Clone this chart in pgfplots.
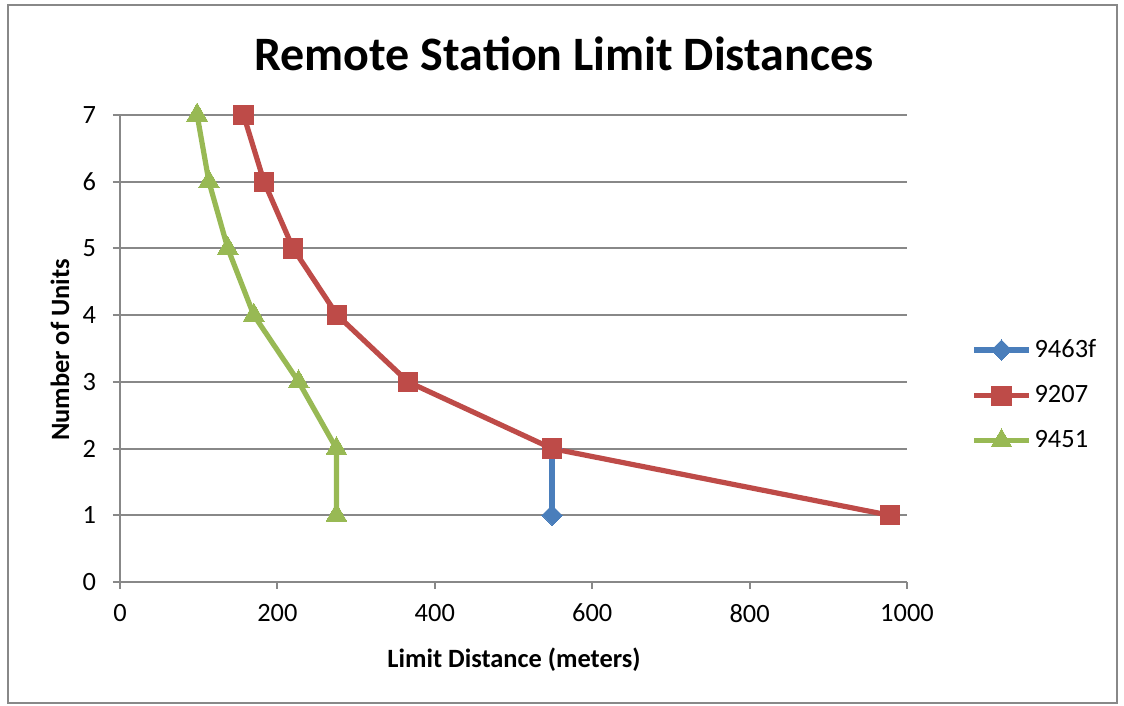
\documentclass[border=0pt]{standalone}
\usepackage{fontspec}
\setmainfont{Carlito}
\usepackage{pgfplots}
\pgfplotsset{compat=1.18}
\definecolor{sblue}{HTML}{4A7EBB}
\definecolor{sred}{HTML}{BE4B48}
\definecolor{sgreen}{HTML}{98B954}
\definecolor{gridgray}{HTML}{888888}
\begin{document}
\begin{tikzpicture}
\path (0,0) rectangle (562pt,353pt);
\draw[gridgray, line width=0.8pt] (4pt,1.5pt) rectangle (558.5pt,350.5pt);
\node[font=\fontsize{24}{29}\selectfont\bfseries] at (282pt,326pt) {Remote Station Limit Distances};
\begin{axis}[
  at={(60pt,62pt)}, anchor=south west,
  scale only axis, width=393.5pt, height=233.5pt,
  xmin=0, xmax=1000, ymin=0, ymax=7,
  xtick={0,200,...,1000}, ytick={0,1,...,7},
  axis lines*=left,
  axis line style={draw=gridgray, line width=1pt, -},
  ymajorgrids, grid style={draw=gridgray, line width=1pt},
  tick align=outside, major tick length=3.5pt,
  tick style={draw=gridgray, line width=1pt},
  /pgf/number format/assume math mode=true,
  /pgf/number format/1000 sep={},
  ticklabel style={font=\fontsize{13.2}{15}\selectfont},
  xticklabel style={yshift=-4pt},
  yticklabel style={xshift=-5pt},
  clip=false,
  legend cell align=left,
  legend style={draw=none, fill=none, at={(1.0,0.4)}, anchor=west, xshift=32pt,
    font=\fontsize{13.2}{15}\selectfont, row sep=8.5pt, inner sep=0pt,
    nodes={inner xsep=1.5pt}},
  legend image code/.code={%
    \draw[mark=none] (0pt,0pt) -- (27.5pt,0pt);
    \draw[mark repeat=1] plot coordinates {(13.75pt,0pt)};},
  every axis plot/.append style={line width=2.6pt},
]
\addplot[sblue, mark=square*, mark size=3.6pt, mark options={line width=0pt, fill=sblue, rotate=45}] coordinates {(549,1) (549,2)};
\addlegendentry{9463f}
\addplot[sred, mark=square*, mark size=4.8pt, mark options={line width=0pt, fill=sred}] coordinates {(978,1) (549,2) (366,3) (276,4) (220,5) (183,6) (157,7)};
\addlegendentry{9207}
\addplot[sgreen, mark=triangle*, mark size=6pt, mark options={line width=0pt, fill=sgreen}] coordinates {(275,1) (275,2) (227,3) (170,4) (137,5) (113,6) (98,7)};
\addlegendentry{9451}
\end{axis}
\node[font=\fontsize{13.2}{15}\selectfont\bfseries] at (257pt,23pt) {Limit Distance (meters)};
\node[font=\fontsize{13.2}{15}\selectfont\bfseries, rotate=90] at (30pt,178pt) {Number of Units};
\end{tikzpicture}
\end{document}
